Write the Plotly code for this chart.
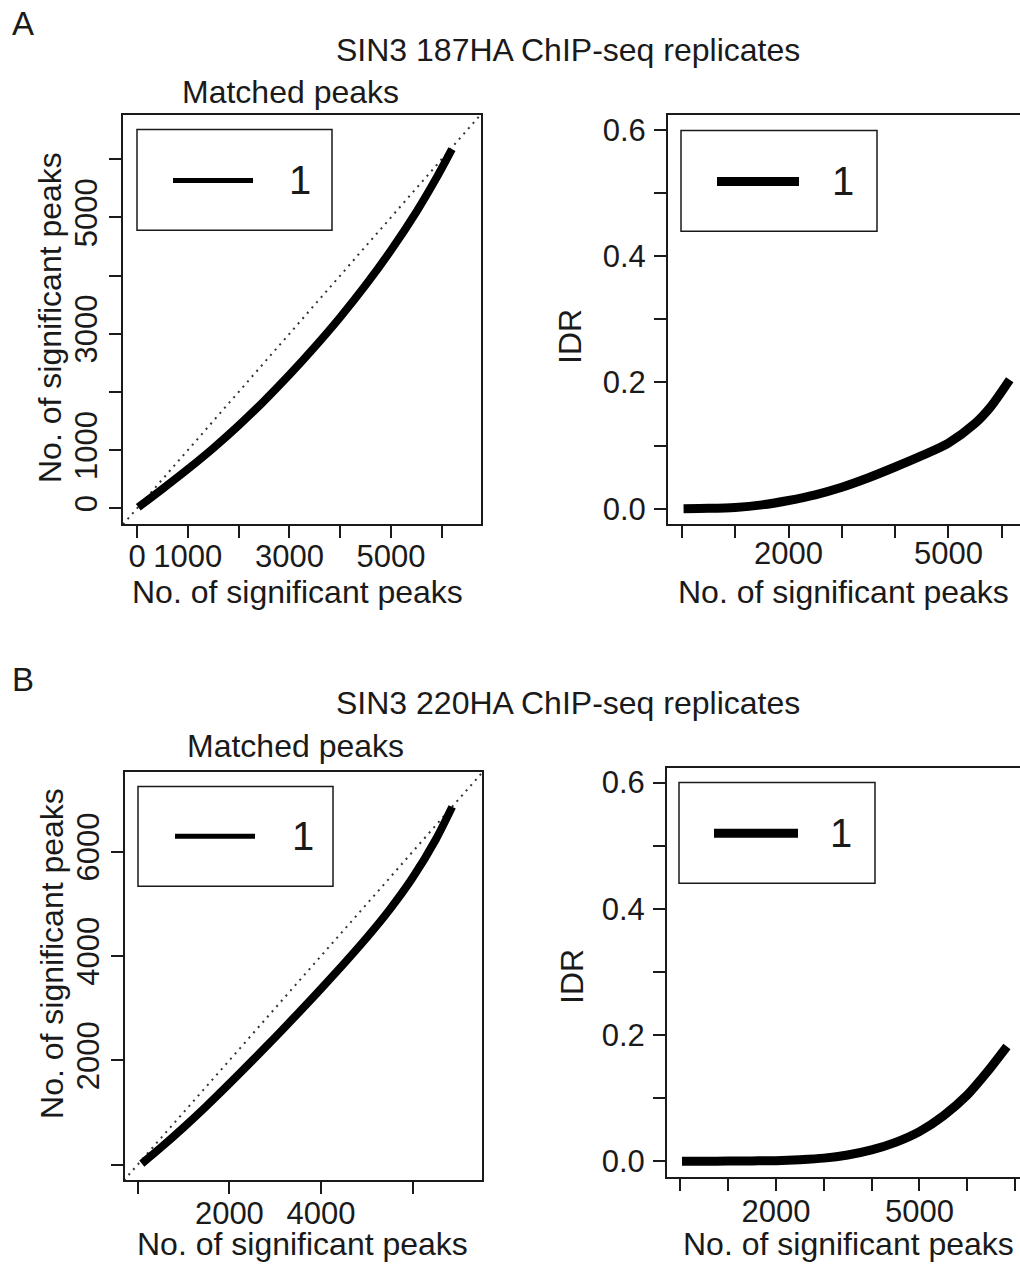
import plotly.graph_objects as go

# ---------------- data ----------------
A_MATCH_X = [25, 500, 1000, 1500, 2000, 2500, 3000, 3500, 4000, 4500, 5000, 5500, 5900, 6200]
A_MATCH_Y = [20, 334, 674, 1034, 1424, 1844, 2294, 2774, 3284, 3834, 4434, 5094, 5686, 6172]
A_IDR_X = [30, 500, 1000, 1500, 2000, 2500, 3000, 3500, 4000, 4500, 5000, 5500, 5800, 6150]
A_IDR_Y = [0.0, 0.0005, 0.002, 0.006, 0.013, 0.022, 0.034, 0.049, 0.066, 0.084, 0.104, 0.135, 0.162, 0.204]

B_MATCH_X = [90, 500, 1000, 1500, 2000, 2500, 3000, 3500, 4000, 4500, 5000, 5500, 6000, 6500, 6860]
B_MATCH_Y = [20, 323, 713, 1123, 1553, 1993, 2443, 2903, 3373, 3853, 4353, 4893, 5503, 6228, 6858]
B_IDR_X = [35, 500, 1000, 1500, 2000, 2500, 3000, 3500, 4000, 4500, 5000, 5500, 6000, 6400, 6830]
B_IDR_Y = [0.0, 0.0001, 0.0003, 0.0006, 0.001, 0.0025, 0.005, 0.010, 0.018, 0.030, 0.047, 0.072,
           0.105, 0.140, 0.182]

# diagonal reference line y = x (spans the plot)
A_DIAG = [-276, 6772]
B_DIAG = [-300, 7540]

# ticks / tick labels
A_MATCH_TICKS = [0, 1000, 2000, 3000, 4000, 5000, 6000]
A_MATCH_TICKTEXT = ["0", "1000", "", "3000", "", "5000", ""]
A_IDR_XTICKS = [0, 1000, 2000, 3000, 4000, 5000, 6000]
A_IDR_XTICKTEXT = ["", "", "2000", "", "", "5000", ""]
B_MATCH_TICKS = [0, 2000, 4000, 6000]
B_MATCH_XTICKTEXT = ["", "2000", "4000", ""]
B_MATCH_YTICKTEXT = ["", "2000", "4000", "6000"]
B_IDR_XTICKS = [0, 1000, 2000, 3000, 4000, 5000, 6000, 7000]
B_IDR_XTICKTEXT = ["", "", "2000", "", "", "5000", "", ""]
IDR_YTICKS = [0.0, 0.1, 0.2, 0.3, 0.4, 0.5, 0.6]
IDR_YTICKTEXT = ["0.0", "", "0.2", "", "0.4", "", "0.6"]

# ---------------- layout helpers ----------------
W, H = 1020, 1264
FONT = "Liberation Sans, Arial, Helvetica, sans-serif"
INK = "#1a1a1a"
FS = 32      # titles
TFS = 31     # tick labels


def px(x):
    return x / W


def py(y):
    return 1 - y / H


fig = go.Figure()

DIAG_STYLE = dict(color="#333", width=2, dash="2px,5px")


def curve(width):
    return dict(color="black", width=width, shape="spline", smoothing=0.8)


fig.add_trace(go.Scatter(x=A_DIAG, y=A_DIAG, mode="lines", xaxis="x", yaxis="y",
                         line=DIAG_STYLE, showlegend=False))
fig.add_trace(go.Scatter(x=A_MATCH_X, y=A_MATCH_Y, mode="lines", xaxis="x", yaxis="y",
                         line=curve(8), showlegend=False))
fig.add_trace(go.Scatter(x=A_IDR_X, y=A_IDR_Y, mode="lines", xaxis="x2", yaxis="y2",
                         line=curve(9), showlegend=False))
fig.add_trace(go.Scatter(x=B_DIAG, y=B_DIAG, mode="lines", xaxis="x3", yaxis="y3",
                         line=DIAG_STYLE, showlegend=False))
fig.add_trace(go.Scatter(x=B_MATCH_X, y=B_MATCH_Y, mode="lines", xaxis="x3", yaxis="y3",
                         line=curve(8), showlegend=False))
fig.add_trace(go.Scatter(x=B_IDR_X, y=B_IDR_Y, mode="lines", xaxis="x4", yaxis="y4",
                         line=curve(9), showlegend=False))


def axis(domain, rng, tickvals, ticktext, anchor, mirror=True, angle=0, standoff=0):
    return dict(domain=domain, range=rng, anchor=anchor, tickmode="array",
                tickvals=tickvals, ticktext=ticktext, ticks="outside", ticklen=12,
                tickwidth=1.6, tickcolor=INK, showline=True, linecolor=INK, linewidth=2,
                mirror=mirror, showgrid=False, zeroline=False, tickangle=angle,
                ticklabelstandoff=standoff,
                tickfont=dict(family=FONT, size=TFS, color=INK))


fig.update_layout(
    width=W, height=H, autosize=False,
    margin=dict(l=0, r=0, t=0, b=0),
    paper_bgcolor="white", plot_bgcolor="white",
    showlegend=False,
    xaxis=axis([px(123), px(481)], [-276, 6772], A_MATCH_TICKS, A_MATCH_TICKTEXT, "y", standoff=-9),
    yaxis=axis([py(524), py(113)], [-274, 6764], A_MATCH_TICKS, A_MATCH_TICKTEXT, "x", angle=-90),
    xaxis2=axis([px(668), 1.0], [-262, 6343], A_IDR_XTICKS, A_IDR_XTICKTEXT, "y2", standoff=-12),
    yaxis2=axis([py(524), py(113)], [-0.0248, 0.624], IDR_YTICKS, IDR_YTICKTEXT, "x2",
                mirror=False, standoff=2),
    xaxis3=axis([px(125), px(482)], [-277, 7511], B_MATCH_TICKS, B_MATCH_XTICKTEXT, "y3", standoff=-7),
    yaxis3=axis([py(1182), py(772)], [-300, 7535], B_MATCH_TICKS, B_MATCH_YTICKTEXT, "x3", angle=-90),
    xaxis4=axis([px(667), 1.0], [-278, 7103], B_IDR_XTICKS, B_IDR_XTICKTEXT, "y4", standoff=-6),
    yaxis4=axis([py(1179), py(768)], [-0.0253, 0.6237], IDR_YTICKS, IDR_YTICKTEXT, "x4",
                mirror=False, standoff=2),
)

annotations = []


def text(t, x, y, size=FS, angle=0):
    annotations.append(dict(text=t, x=px(x), y=py(y), xref="paper", yref="paper",
                            xanchor="center", yanchor="middle", showarrow=False,
                            textangle=angle, font=dict(family=FONT, size=size, color=INK)))


text("A", 23, 22, size=33)
text("SIN3 187HA ChIP-seq replicates", 568, 48)
text("Matched peaks", 290, 90)
text("B", 23, 680, size=33)
text("SIN3 220HA ChIP-seq replicates", 568, 703)
text("Matched peaks", 295, 746)

text("No. of significant peaks", 297, 592)
text("No. of significant peaks", 843, 592)
text("No. of significant peaks", 302, 1246)
text("No. of significant peaks", 848, 1246)

text("No. of significant peaks", 50, 317, angle=-90)
text("No. of significant peaks", 52, 955, angle=-90)
text("IDR", 570, 336, angle=-90)
text("IDR", 572, 978, angle=-90)

shapes = []


def legend(x0, y0, x1, y1, lx0, lx1, ly, lw, tx):
    shapes.append(dict(type="rect", xref="paper", yref="paper", x0=px(x0), x1=px(x1),
                       y0=py(y1), y1=py(y0), line=dict(color=INK, width=1.5)))
    shapes.append(dict(type="line", xref="paper", yref="paper", x0=px(lx0), x1=px(lx1),
                       y0=py(ly), y1=py(ly), line=dict(color="black", width=lw)))
    text("1", tx, ly, size=40)


legend(137, 128, 332, 229, 173, 253, 179, 5, 300)
legend(681, 129, 877, 230, 717, 799, 180, 9, 843)
legend(138, 787, 333, 887, 175, 255, 837, 5, 303)
legend(679, 783, 875, 884, 714, 798, 834, 9, 841)

fig.update_layout(annotations=annotations, shapes=shapes)

fig.write_html("out.html")
